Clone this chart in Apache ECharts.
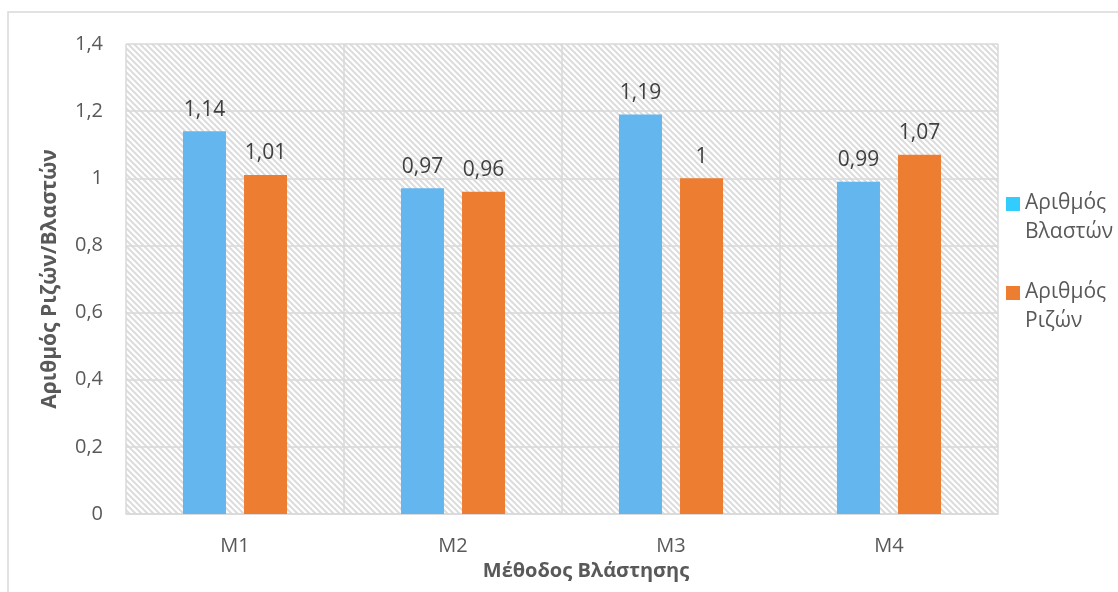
<!DOCTYPE html>
<html>
<head>
<meta charset="utf-8">
<title>Αριθμός Ριζών/Βλαστών</title>
<script src="https://cdn.jsdelivr.net/npm/echarts@6/dist/echarts.min.js"></script>
<style>
  html, body { margin: 0; padding: 0; background: #ffffff; }
  #chart { width: 1118px; height: 592px; }
</style>
</head>
<body>
<div id="chart"></div>
<script>
// Methods on the category axis
const methods = ['M1', 'M2', 'M3', 'M4'];
// Shoots and roots count per method
const shootValues = [1.14, 0.97, 1.19, 0.99];
const rootValues = [1.01, 0.96, 1.00, 1.07];
const seriesNames = ['Αριθμός Βλαστών', 'Αριθμός Ριζών'];
const yTicks = { min: 0, max: 1.4, step: 0.2 };

const FONT = '"Open Sans", "Noto Sans", sans-serif';
const TEXT = '#595959';

// Downward-diagonal hatch used as the plot area fill
function hatchTile() {
  const p = 6;
  const c = document.createElement('canvas');
  c.width = p; c.height = p;
  const g = c.getContext('2d');
  g.fillStyle = '#ffffff';
  g.fillRect(0, 0, p, p);
  g.strokeStyle = '#dcdcdc';
  g.lineWidth = 2;
  for (let k = -1; k <= 1; k++) {
    g.beginPath();
    g.moveTo(k * p - 1, -1);
    g.lineTo(k * p + p + 1, p + 1);
    g.stroke();
  }
  return c;
}

const comma = v => String(+(+v).toFixed(2)).replace('.', ',');

const chart = echarts.init(document.getElementById('chart'), null, { renderer: 'canvas' });

const valueLabel = {
  show: true, position: 'top', distance: 11,
  fontFamily: FONT, fontSize: 21, color: '#404040',
  formatter: p => comma(p.value)
};

chart.setOption({
  animation: false,
  backgroundColor: '#ffffff',
  textStyle: { fontFamily: FONT },
  graphic: [{
    type: 'rect',
    shape: { x: 8, y: 12, width: 1300, height: 800 },
    style: { fill: 'none', stroke: '#d9d9d9', lineWidth: 1.5 },
    silent: true
  }],
  grid: {
    left: 126, top: 44, right: 120, bottom: 78,
    show: true,
    borderWidth: 0,
    backgroundColor: { image: hatchTile(), repeat: 'repeat' }
  },
  legend: {
    orient: 'vertical',
    left: 1006,
    top: 189,
    padding: 0,
    itemGap: 31,
    itemWidth: 14,
    itemHeight: 42,
    icon: 'path://M0,0H14V14H0Z M0,42H14',
    itemStyle: { borderWidth: 0 },
    formatter: n => n.replace(' ', '\n'),
    textStyle: { fontFamily: FONT, fontSize: 21, color: TEXT, lineHeight: 29 },
    data: [
      { name: seriesNames[0], itemStyle: { color: '#33ccff' } },
      { name: seriesNames[1], itemStyle: { color: '#ed7d31' } }
    ]
  },
  xAxis: {
    type: 'category',
    data: methods,
    name: 'Μέθοδος Βλάστησης',
    nameLocation: 'middle',
    nameGap: 38,
    nameTextStyle: { fontFamily: FONT, fontSize: 20, fontWeight: 'bold', color: TEXT, padding: [0, 0, 0, 48] },
    axisLine: { show: true, lineStyle: { color: '#d9d9d9', width: 1.5 } },
    axisTick: { show: false },
    axisLabel: { fontFamily: FONT, fontSize: 20, color: TEXT, margin: 22 },
    splitLine: { show: true, lineStyle: { color: '#d9d9d9', width: 1.5 } }
  },
  yAxis: {
    type: 'value',
    min: yTicks.min,
    max: yTicks.max,
    interval: yTicks.step,
    name: 'Αριθμός Ριζών/Βλαστών',
    nameLocation: 'middle',
    nameGap: 65,
    nameRotate: 90,
    nameTextStyle: { fontFamily: FONT, fontSize: 21, fontWeight: 'bold', color: TEXT },
    axisLine: { show: false },
    axisTick: { show: false },
    axisLabel: { fontFamily: FONT, fontSize: 20, color: TEXT, margin: 23, formatter: v => comma(v) },
    splitLine: { show: true, lineStyle: { color: '#d9d9d9', width: 1.5 } }
  },
  series: [
    {
      name: seriesNames[0],
      type: 'bar',
      data: shootValues,
      barWidth: 43,
      barGap: '42%',
      itemStyle: { color: '#63b6ee' },
      label: valueLabel
    },
    {
      name: seriesNames[1],
      type: 'bar',
      data: rootValues,
      barWidth: 43,
      barGap: '42%',
      itemStyle: { color: '#ed7d31' },
      label: valueLabel
    }
  ]
});
</script>
</body>
</html>
